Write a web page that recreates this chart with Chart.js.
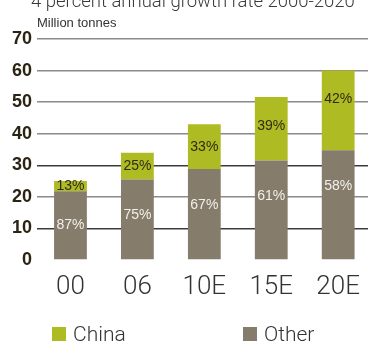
<!DOCTYPE html>
<html>
<head>
<meta charset="utf-8">
<script src="https://cdn.jsdelivr.net/npm/chart.js@4/dist/chart.umd.min.js"></script>
<style>
  html, body { margin: 0; padding: 0; background: #fff; overflow: hidden; }
  #wrap { width: 372px; height: 343px; }
</style>
</head>
<body>
<div id="wrap"><canvas id="c" width="372" height="343"></canvas></div>
<script>
// Aluminium demand, million tonnes
const years = ['00', '06', '10E', '15E', '20E'];
const chinaValues = [3.25, 8.5, 14.2, 20.1, 25.2];
const otherValues = [21.75, 25.5, 28.8, 31.5, 34.8];
const yTicks = [0, 10, 20, 30, 40, 50, 60, 70];

const titleText = '4 percent annual growth rate 2000-2020';
const unitText = 'Million tonnes';

const GREEN = '#afbb22';
const TAUPE = '#857c6c';
const LIGHT = 'Roboto, "Liberation Sans", sans-serif';
const SANS = '"Liberation Sans", Arial, sans-serif';

// Share labels inside each stacked segment, plus title, unit and legend
const annotate = {
  id: 'annotate',
  afterDatasetsDraw(chart) {
    const ctx = chart.ctx;
    const metaOther = chart.getDatasetMeta(0);
    const metaChina = chart.getDatasetMeta(1);
    ctx.save();
    ctx.textAlign = 'center';
    ctx.textBaseline = 'middle';
    ctx.font = '14px ' + SANS;
    years.forEach((_, i) => {
      const total = chinaValues[i] + otherValues[i];
      const china = metaChina.data[i];
      const other = metaOther.data[i];
      const hC = china.base - china.y;
      ctx.fillStyle = '#2f2c14';
      ctx.fillText(Math.round(chinaValues[i] / total * 100) + '%', china.x, china.y + Math.min(hC / 2, 29));
      const hO = other.base - other.y;
      ctx.fillStyle = '#f3f0ea';
      ctx.fillText(Math.round(otherValues[i] / total * 100) + '%', other.x, other.y + Math.min(hO / 2, 36));
    });
    ctx.restore();
  },
  afterDraw(chart) {
    const ctx = chart.ctx;
    ctx.save();
    ctx.textAlign = 'left';
    ctx.textBaseline = 'alphabetic';
    ctx.fillStyle = '#3a3a3a';
    ctx.font = '300 18.5px ' + LIGHT;
    ctx.fillText(titleText, 31, 7);
    ctx.fillStyle = '#333';
    ctx.font = '13px ' + SANS;
    ctx.fillText(unitText, 37, 27);
    // legend
    const items = [
      { label: chart.data.datasets[1].label, color: chart.data.datasets[1].backgroundColor, x: 52 },
      { label: chart.data.datasets[0].label, color: chart.data.datasets[0].backgroundColor, x: 243 }
    ];
    ctx.font = '300 21px ' + LIGHT;
    items.forEach(it => {
      ctx.fillStyle = it.color;
      ctx.fillRect(it.x, 327, 14, 14);
      ctx.fillStyle = '#333';
      ctx.fillText(it.label, it.x + 21, 341);
    });
    ctx.restore();
  }
};

new Chart(document.getElementById('c'), {
  type: 'bar',
  data: {
    labels: years,
    datasets: [
      { label: 'Other', data: otherValues, backgroundColor: TAUPE },
      { label: 'China', data: chinaValues, backgroundColor: GREEN }
    ]
  },
  options: {
    responsive: false,
    animation: false,
    devicePixelRatio: 1,
    layout: { padding: { top: 39, left: 0, right: 0, bottom: 0 } },
    datasets: { bar: { categoryPercentage: 1, barPercentage: 0.49 } },
    plugins: { legend: { display: false }, tooltip: { enabled: false }, title: { display: false } },
    scales: {
      x: {
        stacked: true,
        grid: { display: false, drawTicks: false },
        border: { display: false },
        ticks: { color: '#333', padding: 12, font: { family: LIGHT, size: 26, weight: '300' } },
        afterFit(s) { s.height = 83; }
      },
      y: {
        stacked: true,
        min: yTicks[0],
        max: yTicks[yTicks.length - 1],
        afterBuildTicks(s) { s.ticks = yTicks.map(v => ({ value: v })); },
        grid: {
          drawTicks: false,
          lineWidth: 1.5,
          color: c => {
            const v = c.tick ? c.tick.value : null;
            if (v === 0) return 'rgba(0,0,0,0)';
            return (v === 30 || v === 10) ? '#3c3c3c' : '#8a8a8a';
          }
        },
        border: { display: false },
        ticks: { color: '#2b2412', padding: 5, font: { family: SANS, size: 18, weight: 'bold' } },
        afterFit(s) { s.width = 37; }
      }
    }
  },
  plugins: [annotate]
});
</script>
</body>
</html>
